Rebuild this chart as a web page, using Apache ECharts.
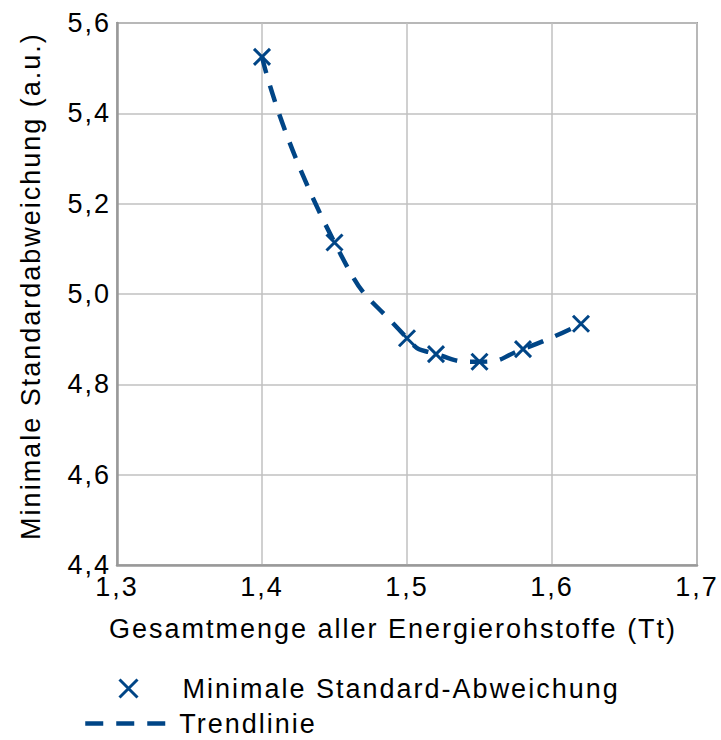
<!DOCTYPE html>
<html>
<head>
<meta charset="utf-8">
<script src="https://cdn.jsdelivr.net/npm/echarts@6/dist/echarts.min.js"></script>
<style>
html,body{margin:0;padding:0;background:#fff;}
#chart{width:721px;height:740px;letter-spacing:2px;}
</style>
</head>
<body>
<div id="chart"></div>
<script>
const xValues = [1.40, 1.45, 1.50, 1.52, 1.55, 1.58, 1.62];
const yValues = [5.525, 5.114, 4.902, 4.867, 4.850, 4.878, 4.934];
const seriesNames = ['Minimale Standard-Abweichung', 'Trendlinie'];
const xAxisTitle = 'Gesamtmenge aller Energierohstoffe (Tt)';
const yAxisTitle = 'Minimale Standardabweichung (a.u.)';

const points = xValues.map((x, i) => [x, yValues[i]]);
const blue = '#004586';
const fmt = v => v.toFixed(1).replace('.', ',');
const font = 'Liberation Sans';
const fs = 27;
const xPath = 'path://M0,0L10,10M10,0L0,10';

const chart = echarts.init(document.getElementById('chart'), null, {renderer: 'svg'});
chart.setOption({
  animation: false,
  backgroundColor: '#ffffff',
  textStyle: {fontFamily: font},
  grid: {
    left: 117, top: 23, width: 580, height: 542,
    show: true, borderColor: '#a0a0a0', borderWidth: 2
  },
  xAxis: {
    type: 'value', min: 1.3, max: 1.7, interval: 0.1,
    name: xAxisTitle, nameLocation: 'middle', nameGap: 50,
    nameTextStyle: {fontSize: fs, color: '#000', fontFamily: font, padding: [0, 28, 0, 0]},
    axisLine: {show: true, lineStyle: {color: '#999999', width: 2.5}},
    axisTick: {show: false},
    axisLabel: {formatter: fmt, fontSize: fs, lineHeight: 20, color: '#000', margin: 12, fontFamily: font},
    splitLine: {show: true, lineStyle: {color: '#c0c0c0', width: 1.5}}
  },
  yAxis: {
    type: 'value', min: 4.4, max: 5.6, interval: 0.2,
    name: yAxisTitle, nameLocation: 'middle', nameGap: 73, nameRotate: 90,
    nameTextStyle: {fontSize: fs, color: '#000', fontFamily: font, padding: [0, 0, 0, 16]},
    axisLine: {show: true, lineStyle: {color: '#999999', width: 2.5}},
    axisTick: {show: false},
    axisLabel: {formatter: fmt, fontSize: fs, lineHeight: 20, color: '#000', margin: 6, fontFamily: font},
    splitLine: {show: true, lineStyle: {color: '#c0c0c0', width: 1.5}}
  },
  legend: [
    {
      left: 118, top: 675, padding: 0,
      itemWidth: 88, itemHeight: 18,
      textStyle: {fontSize: fs, lineHeight: 20, color: '#000', fontFamily: font, padding: [0, 0, 0, 5]},
      itemStyle: {color: 'rgba(0,0,0,0)', borderColor: blue, borderWidth: 3},
      data: [{name: seriesNames[0], icon: xPath}]
    },
    {
      left: 83, top: 710, padding: 0,
      itemWidth: 80, itemHeight: 18,
      textStyle: {fontSize: fs, lineHeight: 20, color: '#000', fontFamily: font, padding: [0, 0, 0, 9]},
      itemStyle: {color: 'rgba(0,0,0,0)', borderWidth: 0, opacity: 0},
      lineStyle: {color: blue, width: 4.5, type: [18, 13], cap: 'butt'},
      data: [{name: seriesNames[1]}]
    }
  ],
  series: [
    {
      name: seriesNames[1],
      type: 'line',
      data: points,
      smooth: 0.6,
      symbol: 'none',
      z: 2,
      lineStyle: {color: blue, width: 4.5, type: [17, 13], cap: 'butt'},
      itemStyle: {color: 'rgba(0,0,0,0)'}
    },
    {
      name: seriesNames[0],
      type: 'scatter',
      data: points,
      symbol: xPath,
      symbolSize: 16,
      z: 3,
      itemStyle: {color: 'rgba(0,0,0,0)', borderColor: blue, borderWidth: 3, opacity: 1}
    }
  ]
});
</script>
</body>
</html>
